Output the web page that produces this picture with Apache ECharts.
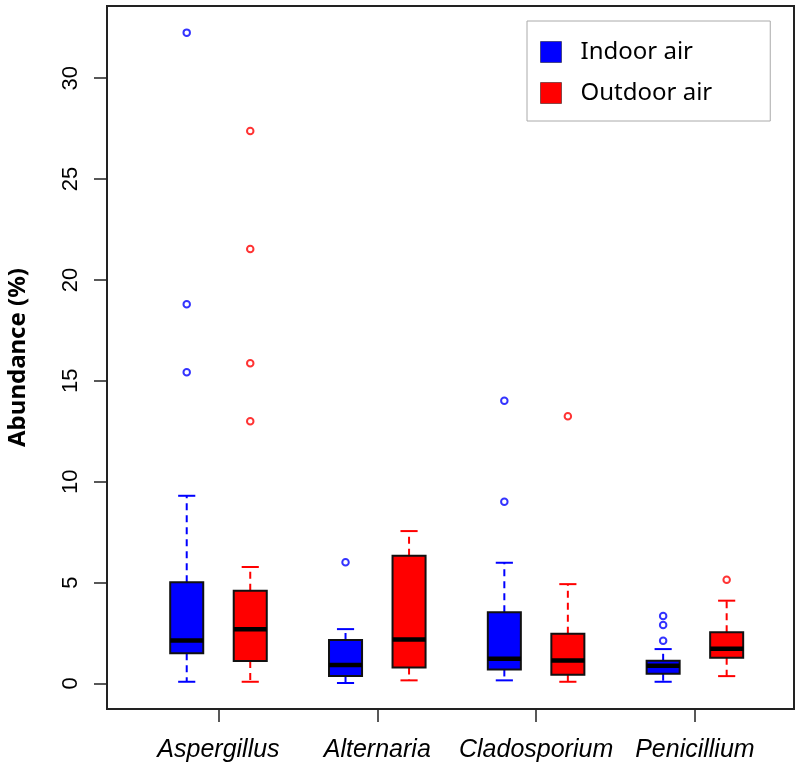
<!DOCTYPE html>
<html>
<head>
<meta charset="utf-8">
<script src="https://cdn.jsdelivr.net/npm/echarts@6/dist/echarts.min.js"></script>
<style>
  html, body { margin: 0; padding: 0; background: #fff; }
  #chart { width: 800px; height: 767px; }
</style>
</head>
<body>
<div id="chart"></div>
<script>
// ---- data ----
const categories = ['Aspergillus', 'Alternaria', 'Cladosporium', 'Penicillium'];
const seriesNames = ['Indoor air', 'Outdoor air'];
const yTicks = [0, 5, 10, 15, 20, 25, 30];

// [lower whisker, Q1, median, Q3, upper whisker]
const indoorStats = [
  [0.08, 1.49, 2.13, 5.01, 9.30],
  [0.02, 0.36, 0.91, 2.15, 2.69],
  [0.15, 0.69, 1.22, 3.53, 5.98],
  [0.08, 0.48, 0.87, 1.12, 1.70]
];
const outdoorStats = [
  [0.08, 1.11, 2.68, 4.59, 5.77],
  [0.15, 0.79, 2.18, 6.33, 7.55],
  [0.08, 0.43, 1.14, 2.46, 4.92],
  [0.36, 1.27, 1.72, 2.54, 4.10]
];
const indoorOutliers = [
  [32.26, 18.79, 15.42],
  [6.00],
  [14.01, 9.00],
  [3.34, 2.89, 2.11]
];
const outdoorOutliers = [
  [27.38, 21.53, 15.87, 13.00],
  [],
  [13.24],
  [5.14]
];

// ---- layout helpers (positions on the x value axis) ----
const groupCenter = i => 2 + 5 * i;
const seriesOffset = [-1, 1];
const boxHalf = 0.52;
const capHalf = 0.27;
const colors = ['#0000ff', '#ff0000'];

function boxData(stats, s) {
  return stats.map((d, i) => [groupCenter(i) + seriesOffset[s]].concat(d));
}
function outlierData(outs, s) {
  const res = [];
  outs.forEach((arr, i) => arr.forEach(v => res.push([groupCenter(i) + seriesOffset[s], v])));
  return res;
}

function renderBox(params, api) {
  const x = api.value(0);
  const lo = api.coord([x, api.value(1)]);
  const q1 = api.coord([x, api.value(2)]);
  const med = api.coord([x, api.value(3)]);
  const q3 = api.coord([x, api.value(4)]);
  const hi = api.coord([x, api.value(5)]);
  const cx = lo[0];
  const hb = api.coord([x + boxHalf, 0])[0] - cx;
  const hc = api.coord([x + capHalf, 0])[0] - cx;
  const color = api.visual('color');
  const dash = { stroke: color, lineWidth: 2, lineDash: [7, 5] };
  const solid = { stroke: color, lineWidth: 2 };
  return {
    type: 'group',
    children: [
      { type: 'line', shape: { x1: cx, y1: q3[1], x2: cx, y2: hi[1] }, style: dash },
      { type: 'line', shape: { x1: cx, y1: q1[1], x2: cx, y2: lo[1] }, style: dash },
      { type: 'line', shape: { x1: cx - hc, y1: hi[1], x2: cx + hc, y2: hi[1] }, style: solid },
      { type: 'line', shape: { x1: cx - hc, y1: lo[1], x2: cx + hc, y2: lo[1] }, style: solid },
      { type: 'rect', shape: { x: cx - hb, y: q3[1], width: 2 * hb, height: q1[1] - q3[1] },
        style: { fill: color, stroke: '#111', lineWidth: 2 } },
      { type: 'line', shape: { x1: cx - hb, y1: med[1], x2: cx + hb, y2: med[1] },
        style: { stroke: '#000', lineWidth: 4.5 } }
    ]
  };
}

const chart = echarts.init(document.getElementById('chart'), null, { renderer: 'canvas' });
const option = {
  animation: false,
  backgroundColor: '#fff',
  grid: {
    left: 107, top: 6, right: 6, bottom: 58,
    containLabel: false,
    outerBoundsMode: 'none',
    show: true, borderColor: '#222', borderWidth: 2, backgroundColor: 'transparent'
  },
  legend: {
    data: seriesNames.map(n => ({ name: n, icon: 'rect' })),
    orient: 'vertical',
    left: 527, top: 21,
    padding: [19, 58, 16, 13],
    itemWidth: 21, itemHeight: 21, itemGap: 17,
    backgroundColor: '#fff',
    borderColor: '#aaa', borderWidth: 1,
    itemStyle: { borderColor: 'rgba(0,0,0,0.45)', borderWidth: 1 },
    textStyle: { fontFamily: 'Noto Sans', fontSize: 24, color: '#000', lineHeight: 21, padding: [0, 0, 0, 14] },
    selectedMode: false
  },
  xAxis: {
    type: 'value',
    min: -1.51, max: 20.12,
    splitLine: { show: false },
    axisLine: { show: false, onZero: false },
    axisTick: { show: true, customValues: categories.map((c, i) => groupCenter(i)), length: 13,
      lineStyle: { color: '#222', width: 1.5 } },
    axisLabel: {
      customValues: categories.map((c, i) => groupCenter(i)),
      formatter: v => categories[Math.round((v - 2) / 5)],
      fontFamily: 'Liberation Sans', fontStyle: 'italic', fontSize: 25, color: '#000', margin: 29
    }
  },
  yAxis: {
    type: 'value',
    min: -1.27, max: 33.58,
    name: 'Abundance (%)',
    nameLocation: 'middle',
    nameGap: 77,
    nameTextStyle: { fontFamily: 'Noto Sans', fontWeight: 'bold', fontSize: 24, color: '#000' },
    splitLine: { show: false },
    axisLine: { show: false, onZero: false },
    axisTick: { show: true, customValues: yTicks, length: 13, lineStyle: { color: '#222', width: 1.5 } },
    axisLabel: {
      customValues: yTicks, rotate: 90, margin: 25,
      fontFamily: 'Liberation Sans', fontSize: 22, color: '#000'
    }
  },
  series: [
    {
      name: seriesNames[0], type: 'custom', renderItem: renderBox,
      itemStyle: { color: colors[0] },
      encode: { x: 0, y: [1, 2, 3, 4, 5] },
      data: boxData(indoorStats, 0), z: 2
    },
    {
      name: seriesNames[1], type: 'custom', renderItem: renderBox,
      itemStyle: { color: colors[1] },
      encode: { x: 0, y: [1, 2, 3, 4, 5] },
      data: boxData(outdoorStats, 1), z: 2
    },
    {
      name: 'Indoor outliers', type: 'scatter', symbol: 'emptyCircle', symbolSize: 6.5,
      itemStyle: { color: colors[0], borderColor: colors[0], borderWidth: 1.8 },
      data: outlierData(indoorOutliers, 0), z: 3
    },
    {
      name: 'Outdoor outliers', type: 'scatter', symbol: 'emptyCircle', symbolSize: 6.5,
      itemStyle: { color: colors[1], borderColor: colors[1], borderWidth: 1.8 },
      data: outlierData(outdoorOutliers, 1), z: 3
    }
  ]
};
chart.setOption(option);
</script>
</body>
</html>
